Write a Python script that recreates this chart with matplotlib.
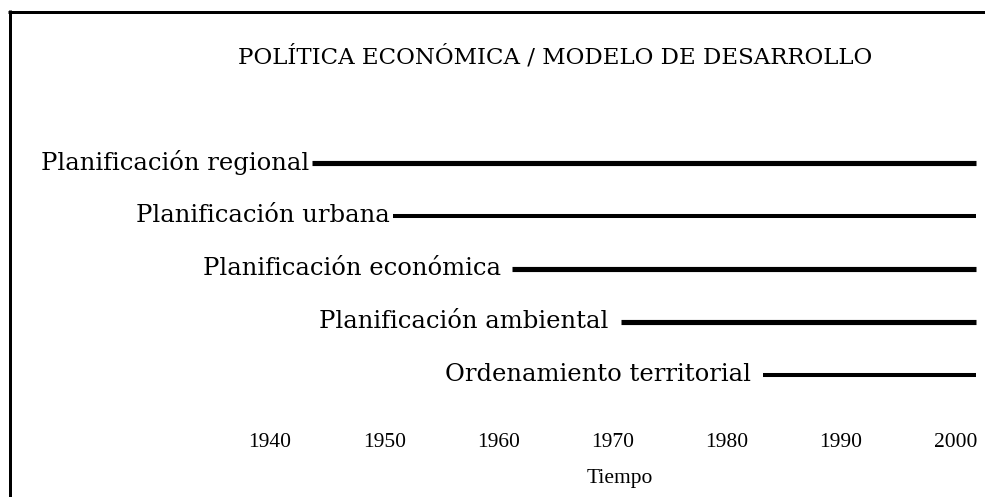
import matplotlib
matplotlib.use("Agg")
import matplotlib.pyplot as plt
from matplotlib.lines import Line2D

# ---- data ----
title = "POLÍTICA ECONÓMICA / MODELO DE DESARROLLO"
labels = ["Planificación regional", "Planificación urbana", "Planificación económica",
          "Planificación ambiental", "Ordenamiento territorial"]
start_years = [1943.7, 1950.8, 1961.2, 1970.7, 1983.2]
end_years = [2001.8, 2001.8, 2001.8, 2001.8, 2001.8]
tick_years = [1940, 1950, 1960, 1970, 1980, 1990, 2000]
tick_labels = ["1940", "1950", "1960", "1970", "1980", "1990", "2000"]
xlabel = "Tiempo"

# ---- style ----
FONT = "DejaVu Serif"
TFONT = "Liberation Serif"
widths = [3.7, 2.9, 3.7, 3.7, 2.9]
gaps = [3, 4, 11, 12, 12]  # px between label and line

W, H, DPI = 985, 497, 100
fig = plt.figure(figsize=(W / DPI, H / DPI), dpi=DPI)
fig.patch.set_facecolor("white")

ax_bottom_px = 425
ax = fig.add_axes([0, (H - ax_bottom_px) / H, 1, ax_bottom_px / H])
px_per_year = 11.42
x0_px = 270
ax.set_xlim(1940 - x0_px / px_per_year, 1940 + (W - x0_px) / px_per_year)
row0, rstep = 163, 53
ax.set_ylim((ax_bottom_px - row0) / rstep, -row0 / rstep)

for i, (lab, s, e) in enumerate(zip(labels, start_years, end_years)):
    ax.plot([s, e], [i, i], color="black", lw=widths[i], solid_capstyle="butt")
    ax.annotate(lab, xy=(s, i), xytext=(-gaps[i] * 72 / DPI, 0), textcoords="offset points",
                ha="right", va="center", fontsize=17.5, family=FONT, color="black")

ax.set_xticks(tick_years)
ax.set_xticklabels(tick_labels, fontsize=15.5, family=TFONT)
ax.tick_params(axis="x", length=0, pad=6)
ax.set_yticks([])
ax.set_xlabel(xlabel, fontsize=15.5, family=TFONT)
ax.xaxis.set_label_coords(620 / W, -(478 - ax_bottom_px) / ax_bottom_px)
ax.xaxis.label.set_va("center")
for sp in ax.spines.values():
    sp.set_visible(False)
ax.patch.set_alpha(0)

fig.text(555 / W, 1 - 57 / H, title, ha="center", va="center", fontsize=16.5, family=FONT)

# frame (left and top)
fig.add_artist(Line2D([9.5 / W, 9.5 / W], [0, 1 - 10 / H], transform=fig.transFigure,
                      color="black", lw=3 * 72 / DPI, solid_capstyle="butt"))
fig.add_artist(Line2D([8 / W, 1], [1 - 11.5 / H, 1 - 11.5 / H], transform=fig.transFigure,
                      color="black", lw=3 * 72 / DPI, solid_capstyle="butt"))

fig.savefig("out.png", dpi=DPI)
